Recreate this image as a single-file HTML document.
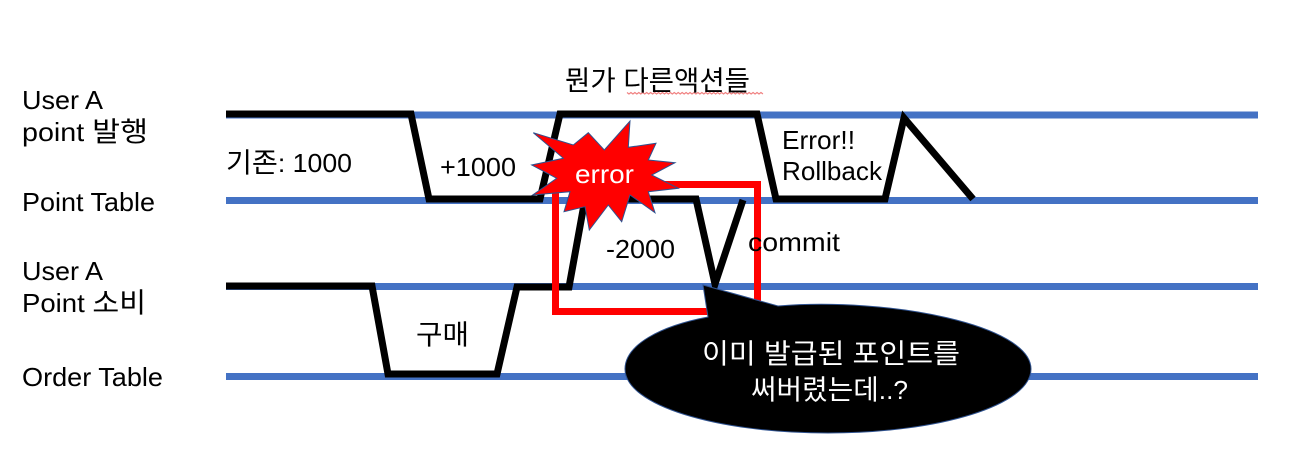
<!DOCTYPE html>
<html><head><meta charset="utf-8"><style>
html,body{margin:0;padding:0;background:#fff}
svg{display:block}
text{font-family:"Liberation Sans","Noto Sans CJK KR",sans-serif;font-size:26px;fill:#000}
tspan{font-size:27.500px}
</style></head><body>
<svg width="1308" height="472" viewBox="0 0 1308 472" xmlns="http://www.w3.org/2000/svg">
<rect width="1308" height="472" fill="#fff"/>
<g stroke="#4472c4" stroke-width="7" fill="none">
<path d="M226 115H1258M226 200.500H1258M226 286.500H1258M226 376.500H1258"/>
</g>
<g stroke="#000" stroke-width="7" fill="none" stroke-linejoin="miter">
<path d="M226 114H411L429 199H540L560 114H757L776 199H885L904 118L973 199"/>
<path d="M226 286H372L388 374H497L517 287H569L585 199H696L715 284L743 200"/>
</g>
<rect x="555.500" y="184.500" width="202" height="127" fill="none" stroke="#f00" stroke-width="7"/>
<polygon points="630,121 628.300,147.300 656,143.300 648.300,160 675,162.700 651.700,175 678.300,188.300 648.300,191.700 655,212.700 630,195 621.700,221.700 608.300,205 589.300,230 585,206.700 564,211.700 570,191.700 532.700,195 556.700,178.300 531.700,165 563.300,158.300 533.300,132.700 573.300,145 588.300,132.700 604.300,150" fill="#f00" stroke="#2f528f" stroke-width="1"/>
<path d="M703 285L778 306C890 297 1031 325 1031 369C1031 405 940 433 828 433C716 433 625 405 625 369C625 345 660 326 708 317Z" fill="#000" stroke="#2f528f" stroke-width="1"/>
<path d="M627 92.500l2 1.500 2-1.500 2 1.500 2-1.500 2 1.500 2-1.500 2 1.500 2-1.500 2 1.500 2-1.500 2 1.500 2-1.500 2 1.500 2-1.500 2 1.500 2-1.500 2 1.500 2-1.500 2 1.500 2-1.500 2 1.500 2-1.500 2 1.500 2-1.500 2 1.500 2-1.500 2 1.500 2-1.500 2 1.500 2-1.500 2 1.500 2-1.500 2 1.500 2-1.500 2 1.500 2-1.500 2 1.500 2-1.500 2 1.500 2-1.500 2 1.500 2-1.500 2 1.500 2-1.500 2 1.500 2-1.500 2 1.500 2-1.500 2 1.500 2-1.500 2 1.500 2-1.500 2 1.500 2-1.500 2 1.500 2-1.500 2 1.500 2-1.500 2 1.500 2-1.500 2 1.500 2-1.500 2 1.500 2-1.500 2 1.500 2-1.500 2 1.500 2-1.500 2 1.500" fill="none" stroke="#f08080" stroke-width="1.200" transform="translate(627 0) scale(0.985 1) translate(-627 0)"/>
<g>
<text x="22" y="109" textLength="81" lengthAdjust="spacingAndGlyphs">User A</text>
<text x="22" y="141" textLength="126" lengthAdjust="spacingAndGlyphs">point <tspan>발행</tspan></text>
<text x="22" y="211" textLength="133" lengthAdjust="spacingAndGlyphs">Point Table</text>
<text x="22" y="280" textLength="81" lengthAdjust="spacingAndGlyphs">User A</text>
<text x="22" y="312" textLength="124" lengthAdjust="spacingAndGlyphs">Point <tspan>소비</tspan></text>
<text x="22" y="386" textLength="141" lengthAdjust="spacingAndGlyphs">Order Table</text>
<text x="226" y="172" textLength="126" lengthAdjust="spacingAndGlyphs"><tspan>기존</tspan>: 1000</text>
<text x="440" y="176" textLength="76" lengthAdjust="spacingAndGlyphs">+1000</text>
<text x="782" y="149" textLength="73" lengthAdjust="spacingAndGlyphs">Error!!</text>
<text x="782" y="180" textLength="100" lengthAdjust="spacingAndGlyphs">Rollback</text>
<text x="565" y="90" textLength="185" lengthAdjust="spacingAndGlyphs"><tspan>뭔가 다른액션들</tspan></text>
<text x="575" y="183" textLength="59" lengthAdjust="spacingAndGlyphs" style="fill:#fff">error</text>
<text x="606" y="258" textLength="69" lengthAdjust="spacingAndGlyphs">-2000</text>
<text x="748" y="251" textLength="92" lengthAdjust="spacingAndGlyphs">commit</text>
<text x="416" y="344" textLength="53" lengthAdjust="spacingAndGlyphs"><tspan>구매</tspan></text>
<text x="702" y="363" textLength="258" lengthAdjust="spacingAndGlyphs" style="fill:#fff"><tspan style="fill:#fff">이미 발급된 포인트를</tspan></text>
<text x="751" y="399" textLength="157" lengthAdjust="spacingAndGlyphs" style="fill:#fff"><tspan style="fill:#fff">써버렸는데</tspan>..?</text>
</g>
</svg>
</body></html>
